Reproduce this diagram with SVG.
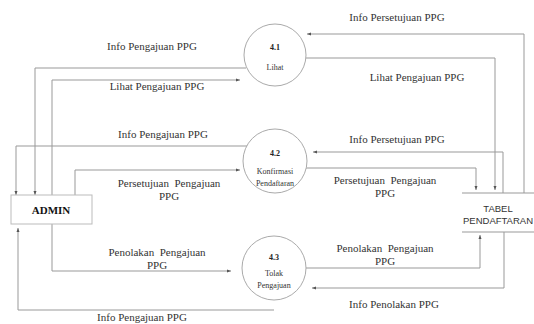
<svg xmlns="http://www.w3.org/2000/svg" width="534" height="324" viewBox="0 0 534 324">
<style>
.c{fill:none;stroke:#999;stroke-width:1}
.n{fill:#fff;stroke:#aaa;stroke-width:1}
.l{font-family:"Liberation Serif",serif;font-size:11px;fill:#333;text-anchor:middle}
.p{font-family:"Liberation Serif",serif;font-size:8px;fill:#333;text-anchor:middle}
.pb{font-family:"Liberation Serif",serif;font-size:8px;font-weight:bold;fill:#222;text-anchor:middle}
</style>
<defs>
<marker id="a" markerUnits="userSpaceOnUse" markerWidth="4" markerHeight="4" refX="4" refY="2" orient="auto"><path d="M0,0.5 L4,2 L0,3.5z" fill="#555"/></marker>
</defs>
<rect width="534" height="324" fill="#fff"/>
<g id="connectors">
<path class="c" d="M246,68 H35 V195" marker-end="url(#a)"/>
<path class="c" d="M52,195 V80 H240" marker-end="url(#a)"/>
<path class="c" d="M524,193 V34 H307" marker-end="url(#a)"/>
<path class="c" d="M306,58 H495 V190" marker-end="url(#a)"/>
<path class="c" d="M247,146 H16 V195" marker-end="url(#a)"/>
<path class="c" d="M75,195 V170 H240" marker-end="url(#a)"/>
<path class="c" d="M503,193 V152 H313" marker-end="url(#a)"/>
<path class="c" d="M306,168 H476 V190" marker-end="url(#a)"/>
<path class="c" d="M52,224 V271 H231" marker-end="url(#a)"/>
<path class="c" d="M274,310 H18 V228" marker-end="url(#a)"/>
<path class="c" d="M306,268 H480 V235" marker-end="url(#a)"/>
<path class="c" d="M504,232 V288 H312" marker-end="url(#a)"/>
</g>
<g id="labels">
<text class="l" x="152" y="50">Info Pengajuan PPG</text>
<text class="l" x="157" y="90">Lihat Pengajuan PPG</text>
<text class="l" x="397" y="21">Info Persetujuan PPG</text>
<text class="l" x="417" y="81">Lihat Pengajuan PPG</text>
<text class="l" x="163" y="138">Info Pengajuan PPG</text>
<text class="l" x="169" y="187" xml:space="preserve">Persetujuan  Pengajuan</text>
<text class="l" x="169" y="200">PPG</text>
<text class="l" x="397" y="143">Info Persetujuan PPG</text>
<text class="l" x="385" y="184" xml:space="preserve">Persetujuan  Pengajuan</text>
<text class="l" x="385" y="197">PPG</text>
<text class="l" x="157" y="256" xml:space="preserve">Penolakan  Pengajuan</text>
<text class="l" x="157" y="269">PPG</text>
<text class="l" x="385" y="252" xml:space="preserve">Penolakan  Pengajuan</text>
<text class="l" x="385" y="265">PPG</text>
<text class="l" x="394" y="308">Info Penolakan PPG</text>
<text class="l" x="142" y="321">Info Pengajuan PPG</text>
</g>
<g id="n41">
<circle class="n" cx="275" cy="55" r="31"/>
<text class="pb" x="275" y="50">4.1</text>
<text class="p" x="275" y="70">Lihat</text>
</g>
<g id="n42">
<circle class="n" cx="275" cy="161" r="32"/>
<text class="pb" x="275" y="156">4.2</text>
<text class="p" x="275" y="174">Konfirmasi</text>
<text class="p" x="275" y="186">Pendaftaran</text>
</g>
<g id="n43">
<circle class="n" cx="274" cy="268" r="32"/>
<text class="pb" x="274" y="260">4.3</text>
<text class="p" x="274" y="276">Tolak</text>
<text class="p" x="274" y="288">Pengajuan</text>
</g>
<g id="admin">
<rect x="11" y="195" width="81" height="29" fill="#fff" stroke="#bbb"/>
<text x="51" y="214" font-family="Liberation Serif,serif" font-size="11px" font-weight="bold" fill="#111" text-anchor="middle">ADMIN</text>
</g>
<g id="tabel">
<path d="M462,193 H534 M462,232 H534" stroke="#999" fill="none"/>
<text x="498" y="212" font-family="Liberation Sans,sans-serif" font-size="9.5px" fill="#333" text-anchor="middle">TABEL</text>
<text x="498" y="224" font-family="Liberation Sans,sans-serif" font-size="9.5px" fill="#333" text-anchor="middle">PENDAFTARAN</text>
</g>
</svg>
